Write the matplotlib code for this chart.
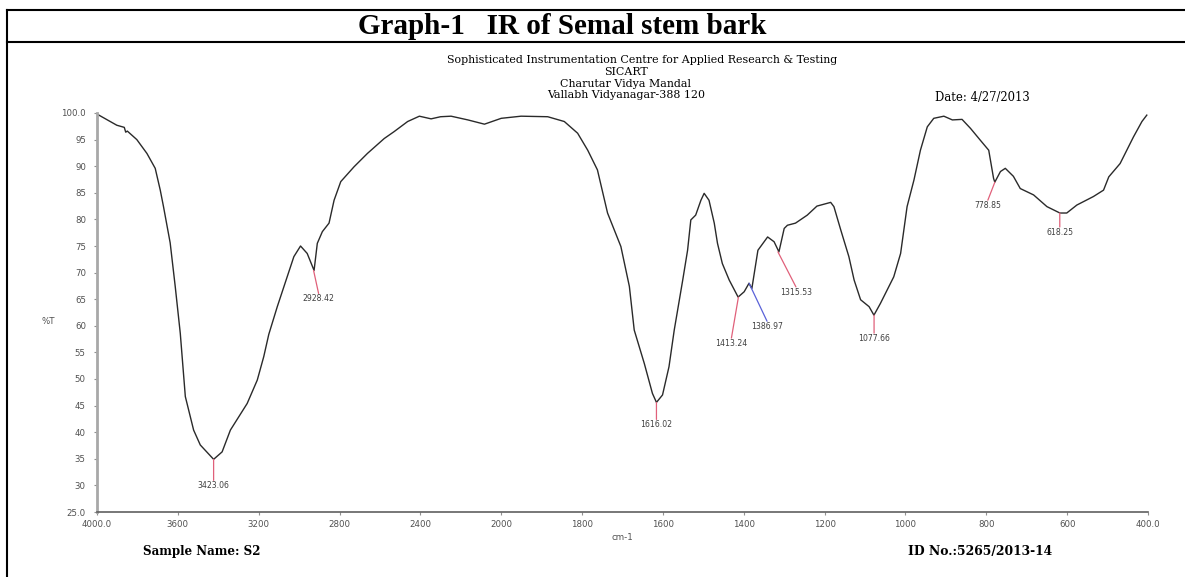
import numpy as np
import matplotlib
matplotlib.use("Agg")
import matplotlib.pyplot as plt
from matplotlib.lines import Line2D

# IR spectrum (wavenumber cm-1, %T)
wavenumber = [4000, 3902, 3865, 3858, 3850, 3803, 3753, 3712, 3687, 3671, 3638, 3613,
              3588, 3563, 3522, 3489, 3423, 3381, 3340, 3257, 3207, 3175, 3150, 3108,
              3067, 3026, 2993, 2960, 2926, 2910, 2885, 2852, 2827, 2794, 2728, 2662,
              2579, 2530, 2463, 2405, 2347, 2300, 2248, 2165, 2083, 2000, 1951, 1885,
              1844, 1811, 1786, 1762, 1737, 1704, 1683, 1671, 1646, 1626, 1616, 1601,
              1585, 1572, 1551, 1539, 1531, 1519, 1506, 1498, 1486, 1473, 1465, 1453,
              1436, 1414, 1399, 1387, 1380, 1365, 1341, 1325, 1313, 1300, 1292, 1272,
              1243, 1219, 1185, 1177, 1160, 1140, 1127, 1111, 1090, 1078, 1062, 1029,
              1012, 996, 979, 963, 946, 930, 905, 884, 860, 839, 815, 794, 782, 779,
              765, 753, 733, 716, 683, 650, 618, 601, 576, 535, 510, 497, 469, 436,
              415, 403]
transmittance = [99.8, 97.7, 97.3, 96.4, 96.6, 95.0, 92.4, 89.6, 85.5, 82.4, 75.6, 67.4,
                 58.6, 46.7, 40.4, 37.6, 34.9, 36.3, 40.4, 45.4, 49.8, 54.2, 58.4, 63.6,
                 68.3, 73.0, 75.0, 73.6, 70.4, 75.5, 77.7, 79.3, 83.6, 87.1, 89.9, 92.4,
                 95.2, 96.5, 98.4, 99.4, 98.9, 99.3, 99.4, 98.7, 97.9, 99.0, 99.4, 99.3,
                 98.4, 96.2, 93.0, 89.3, 81.2, 74.9, 67.4, 59.2, 52.9, 47.3, 45.6, 47.0,
                 52.3, 59.2, 68.6, 74.2, 79.9, 80.8, 83.6, 84.9, 83.6, 79.3, 75.5, 71.7,
                 68.6, 65.4, 66.4, 68.0, 67.0, 74.2, 76.7, 75.8, 73.9, 78.3, 78.9, 79.3,
                 80.8, 82.5, 83.2, 82.4, 78.0, 73.0, 68.6, 64.9, 63.6, 62.0, 64.2, 69.2,
                 73.6, 82.4, 87.4, 93.0, 97.4, 99.0, 99.4, 98.7, 98.8, 97.1, 94.9, 93.0,
                 87.7, 87.0, 89.0, 89.6, 88.1, 85.8, 84.6, 82.4, 81.2, 81.2, 82.7, 84.3,
                 85.5, 88.0, 90.5, 95.5, 98.4, 99.6]

peak_wn = [3423.06, 2928.42, 1616.02, 1413.24, 1386.97, 1315.53, 1077.66, 778.85, 618.25]
peak_t = [34.9, 70.4, 45.6, 65.4, 68.0, 73.9, 62.0, 87.0, 81.2]

xticks = [4000, 3600, 3200, 2800, 2400, 2000, 1800, 1600, 1400, 1200, 1000, 800, 600, 400]
xticklabels = ['4000.0', '3600', '3200', '2800', '2400', '2000', '1800', '1600',
               '1400', '1200', '1000', '800', '600', '400.0']
yticks = [25, 30, 35, 40, 45, 50, 55, 60, 65, 70, 75, 80, 85, 90, 95, 100]
yticklabels = ['25.0'] + [str(v) for v in yticks[1:-1]] + ['100.0']

# marker leader offsets (pixels) and colours
lead = [(0, 21), (5, 23), (0, 17), (-7, 41), (18, 38), (18, 35), (0, 18), (-7, 18), (0, 14)]
lead_col = ['#e0607a'] * 4 + ['#5a62d8'] + ['#e0607a'] * 4


def fwd(w):
    w = np.asarray(w, dtype=float)
    return np.where(w > 2000, 2000 + (w - 2000) / 2.0, w)


def inv(p):
    p = np.asarray(p, dtype=float)
    return np.where(p > 2000, 2000 + (p - 2000) * 2.0, p)


W, H = 1185, 577
fig = plt.figure(figsize=(W / 100, H / 100), dpi=100)
ax = fig.add_axes([97 / W, 1 - 512 / H, (1148 - 97) / W, 399 / H])

ax.plot(wavenumber, transmittance, color='#2a2a2a', lw=1.0)
ax.set_xscale('function', functions=(fwd, inv))
ax.set_xlim(4000, 400)
ax.set_ylim(25, 100)

ax.set_xticks(xticks)
ax.set_xticklabels(xticklabels)
ax.set_yticks(yticks)
ax.set_yticklabels(yticklabels)
ax.tick_params(axis='x', length=2, width=0.8, color='#909090', pad=4,
               labelsize=6.2, labelcolor='#505050')
ax.tick_params(axis='y', length=2, width=0.8, color='#909090', pad=6,
               labelsize=6.2, labelcolor='#505050')
ax.minorticks_off()

for s in ['top', 'right']:
    ax.spines[s].set_visible(False)
ax.spines['left'].set_color('#a8a8a8')
ax.spines['left'].set_linewidth(2)
ax.spines['bottom'].set_color('#606060')
ax.spines['bottom'].set_linewidth(1.2)

ax.set_xlabel('cm-1', fontsize=6.2, color='#505050', labelpad=3)
fig.text(48 / W, 1 - 321 / H, '%T', fontsize=6.2, color='#505050', ha='center', va='center')

for w, t, (dx, dy), c in zip(peak_wn, peak_t, lead, lead_col):
    ax.annotate('', xy=(w, t), xytext=(dx, -dy), textcoords='offset pixels',
                arrowprops=dict(arrowstyle='-', color=c, lw=0.9, shrinkA=0, shrinkB=0))
    ax.annotate(f'{w:.2f}', xy=(w, t), xytext=(dx, -dy - 1), textcoords='offset pixels',
                ha='center', va='top', fontsize=5.6, color='#404040')

# header / footer text
serif = 'DejaVu Serif'
fig.text(562 / W, 1 - 26 / H, 'Graph-1   IR of Semal stem bark', fontsize=21,
         fontweight='bold', family='Liberation Serif', ha='center', va='center')
sub = dict(fontsize=7.9, family=serif, ha='center', va='center')
fig.text(642 / W, 1 - 60 / H,
         'Sophisticated Instrumentation Centre for Applied Research & Testing', **sub)
fig.text(626 / W, 1 - 72 / H, 'SICART', **sub)
fig.text(626 / W, 1 - 84 / H, 'Charutar Vidya Mandal', **sub)
fig.text(626 / W, 1 - 95 / H, 'Vallabh Vidyanagar-388 120', **sub)
fig.text(935 / W, 1 - 97 / H, 'Date: 4/27/2013', fontsize=8.4, family=serif,
         ha='left', va='center')
fig.text(143 / W, 1 - 552 / H, 'Sample Name: S2', fontsize=8.6, family=serif,
         fontweight='bold', ha='left', va='center')
fig.text(908 / W, 1 - 552 / H, 'ID No.:5265/2013-14', fontsize=8.9, family=serif,
         fontweight='bold', ha='left', va='center')

# table border lines
for xs, ys in [((7, W), (10, 10)), ((7, W), (42, 42)), ((7, 7), (10, H))]:
    fig.add_artist(Line2D([x / W for x in xs], [1 - y / H for y in ys],
                          transform=fig.transFigure, color='black', lw=1.5))

fig.savefig('out.png', dpi=100)
